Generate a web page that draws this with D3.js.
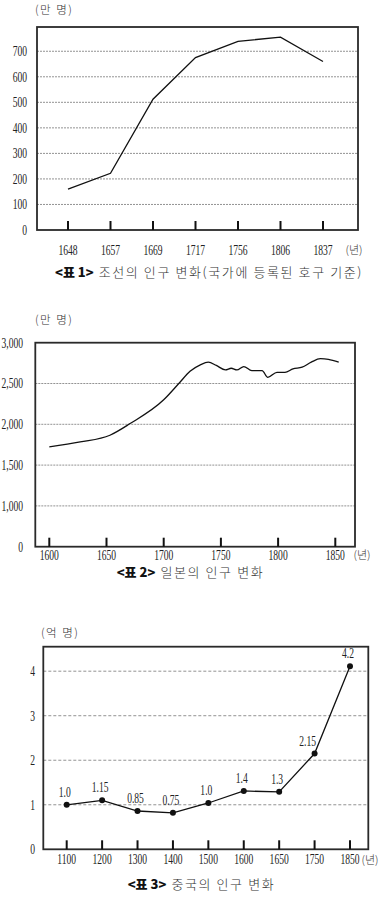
<!DOCTYPE html>
<html><head><meta charset="utf-8">
<script src="https://cdn.jsdelivr.net/npm/d3@7"></script>
<style>
html,body{margin:0;padding:0;background:#fff;}
svg{display:block;}
.num{font-family:"Liberation Serif","DejaVu Serif",serif;font-size:14.5px;fill:#222;}
.kr{font-family:"Noto Sans CJK KR",sans-serif;font-weight:300;fill:#333;}
.krb{font-family:"Noto Sans CJK KR",sans-serif;font-weight:900;fill:#111;}
</style></head>
<body>
<script>
// ---- Chart 1: Joseon (만 명)
const joseonYears = ["1648","1657","1669","1717","1756","1806","1837"];
const joseonPop = [160, 222, 512, 675, 739, 755, 660];
const joseonYTicks = [0,100,200,300,400,500,600,700];

// ---- Chart 2: Japan (만 명), axis break: bottom tick reads "0"
const japanYears = [1600,1627,1653,1671,1700,1714,1723,1732,1739,1746,1754,1759,1764,1770,1777,1786,1791,1799,1806,1813,1821,1829,1837,1844,1853];
const japanPop   = [1723,1784,1866,2012,2300,2512,2650,2729,2762,2721,2666,2687,2666,2708,2658,2658,2575,2637,2637,2679,2700,2762,2804,2796,2762];
const japanXTicks = [1600,1650,1700,1750,1800,1850];
const japanYTicks = [500,1000,1500,2000,2500,3000];
const japanYLabels = ["0","1,000","1,500","2,000","2,500","3,000"];

// ---- Chart 3: China (억 명)
const chinaYears = ["1100","1200","1300","1400","1500","1600","1650","1750","1850"];
const chinaPop = [1.0, 1.10, 0.86, 0.82, 1.04, 1.31, 1.29, 2.15, 4.11];
const chinaLabels = ["1.0","1.15","0.85","0.75","1.0","1.4","1.3","2.15","4.2"];
const chinaYTicks = [0,1,2,3,4];

const svg = d3.select("body").append("svg").attr("width",389).attr("height",899);
const SX = 0.66;

function frame(g, L, R, T, B){
  g.append("rect").attr("x",L).attr("y",T).attr("width",R-L).attr("height",B-T)
    .attr("fill","none").attr("stroke","#2a2a2a").attr("stroke-width",1.8);
}

function grid(g, y, ticks, L, R, T, B, dash){
  g.selectAll(null).data(ticks.filter(t => y(t) > T+2 && y(t) < B-2)).enter().append("line")
    .attr("x1",L).attr("x2",R).attr("y1",d=>y(d)).attr("y2",d=>y(d))
    .attr("stroke","#777").attr("stroke-width",0.8).attr("stroke-dasharray",dash);
}

function yLabels(g, y, ticks, labels, xEnd){
  g.selectAll(null).data(ticks).enter().append("text").attr("class","num")
    .attr("text-anchor","end")
    .attr("transform", d=>`translate(${xEnd},${y(d)+4.8}) scale(${SX},1)`)
    .text((d,i)=>labels ? labels[i] : d);
}

function xTicks(g, x, ticks, B, labY){
  const t = g.selectAll(null).data(ticks).enter().append("g")
    .attr("transform", d=>`translate(${x(d)},0)`);
  t.append("line").attr("y1",B).attr("y2",B-9).attr("stroke","#111").attr("stroke-width",2);
  t.append("text").attr("class","num").attr("text-anchor","middle")
    .attr("transform",`translate(0,${labY}) scale(${SX},1)`).text(d=>d);
}

function caption(g, x, y, bold, rest){
  const t = g.append("text").attr("x",x).attr("y",y).attr("font-size",13);
  t.append("tspan").attr("class","krb").text(bold);
  t.append("tspan").attr("class","kr").attr("dx",5).attr("letter-spacing",1.6).text(rest);
}

function unit(g, x, y, s){
  g.append("text").attr("class","kr").attr("x",x).attr("y",y).attr("font-size",11.5)
    .attr("letter-spacing",1.5).text(s);
}

// ===== Chart 1 =====
{
  const g = svg.append("g");
  const L=37, R=358, T=27, B=230;
  const x = d3.scalePoint().domain(joseonYears).range([68,323]);
  const y = d3.scaleLinear().domain([0,795]).range([B,T]);
  unit(g, 35, 14, "(만 명)");
  grid(g, y, joseonYTicks, L, R, T, B, "2,1");
  yLabels(g, y, joseonYTicks, null, 27);
  g.append("path").datum(joseonPop.map((v,i)=>[joseonYears[i],v]))
    .attr("fill","none").attr("stroke","#111").attr("stroke-width",1.3)
    .attr("d", d3.line().x(d=>x(d[0])).y(d=>y(d[1])));
  frame(g, L, R, T, B);
  xTicks(g, x, joseonYears, B, 254.5);
  g.append("text").attr("class","kr").attr("x",354).attr("y",254).attr("font-size",11)
    .attr("text-anchor","middle").text("(년)");
  caption(g, 55, 277, "<표 1>", "조선의 인구 변화(국가에 등록된 호구 기준)");
}

// ===== Chart 2 =====
{
  const g = svg.append("g");
  const L=35.3, R=355, T=342.7, B=546.7;
  const x = d3.scaleLinear().domain([1600,1850]).range([49.3,335.3]);
  const y = d3.scaleLinear().domain([500,3000]).range([B,T]);
  unit(g, 35, 324, "(만 명)");
  grid(g, y, japanYTicks, L, R, T, B, "2,1");
  yLabels(g, y, japanYTicks, japanYLabels, 23);
  g.append("path").datum(japanPop.map((v,i)=>[japanYears[i],v]))
    .attr("fill","none").attr("stroke","#111").attr("stroke-width",1.3)
    .attr("d", d3.line().curve(d3.curveMonotoneX).x(d=>x(d[0])).y(d=>y(d[1])));
  frame(g, L, R, T, B);
  xTicks(g, x, japanXTicks, B, 559.5);
  g.append("text").attr("class","kr").attr("x",362).attr("y",559).attr("font-size",11)
    .attr("text-anchor","middle").text("(년)");
  caption(g, 116.7, 577, "<표 2>", "일본의 인구 변화");
}

// ===== Chart 3 =====
{
  const g = svg.append("g");
  const L=43.3, R=368.3, T=646.7, B=849.3;
  const x = d3.scalePoint().domain(chinaYears).range([66.7,350]);
  const y = d3.scaleLinear().domain([0,4.55]).range([B,T]);
  unit(g, 41, 637, "(억 명)");
  grid(g, y, chinaYTicks, L, R, T, B, "3,2");
  yLabels(g, y, chinaYTicks, null, 35);
  g.append("path").datum(chinaPop.map((v,i)=>[chinaYears[i],v]))
    .attr("fill","none").attr("stroke","#111").attr("stroke-width",1.3)
    .attr("d", d3.line().x(d=>x(d[0])).y(d=>y(d[1])));
  g.selectAll(null).data(chinaPop).enter().append("circle")
    .attr("cx",(d,i)=>x(chinaYears[i])).attr("cy",d=>y(d)).attr("r",3).attr("fill","#111");
  g.selectAll(null).data(chinaPop).enter().append("text").attr("class","num")
    .attr("text-anchor","middle")
    .attr("transform",(d,i)=>`translate(${x(chinaYears[i])-(i===7?7:2)},${y(d)-8}) scale(${SX},1)`)
    .text((d,i)=>chinaLabels[i]);
  frame(g, L, R, T, B);
  xTicks(g, x, chinaYears, B, 864);
  g.append("text").attr("class","kr").attr("x",370).attr("y",863.5).attr("font-size",11)
    .attr("text-anchor","middle").text("(년)");
  caption(g, 127.7, 889, "<표 3>", "중국의 인구 변화");
}
</script>
</body></html>
